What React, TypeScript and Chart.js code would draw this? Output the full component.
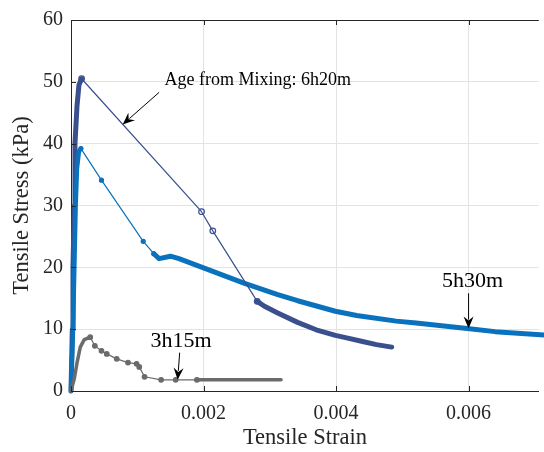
import React, { useEffect, useRef } from 'react';
import { Chart, registerables } from 'chart.js';

Chart.register(...registerables);

// ---- axes ----
const xTickValues = [0, 0.002, 0.004, 0.006];
const xTickLabels = ['0', '0.002', '0.004', '0.006'];
const yTickValues = [0, 10, 20, 30, 40, 50, 60];
const yTickLabels = ['0', '10', '20', '30', '40', '50', '60'];

// ---- 6h20m (navy) ----
const s620RiseStrain = [0, 0.00002, 0.00003, 0.00005, 0.00006, 0.00009, 0.00012, 0.00016];
const s620RiseStress = [0, 10, 20, 30, 40, 46, 49.5, 50.5];
const s620MidStrain = [0.00016, 0.00197, 0.00214, 0.00281];
const s620MidStress = [50.5, 29.0, 25.9, 14.5];
const s620TailStrain = [0.00281, 0.00292, 0.00312, 0.00342, 0.0037, 0.00399, 0.00416, 0.0044, 0.00461, 0.00484];
const s620TailStress = [14.5, 13.7, 12.6, 11.1, 9.9, 9.0, 8.6, 8.0, 7.5, 7.1];

// ---- 5h30m (blue) ----
const s530RiseStrain = [0, 0.00003, 0.00005, 0.00007, 0.00009, 0.00012, 0.00015];
const s530RiseStress = [0, 10, 20, 30, 36, 38.8, 39.2];
const s530MidStrain = [0.00015, 0.00046, 0.00109, 0.00125];
const s530MidStress = [39.2, 34.1, 24.2, 22.2];
const s530TailStrain = [0.00125, 0.00133, 0.0015, 0.00163, 0.00203, 0.00262, 0.00312, 0.00342, 0.00399, 0.00431, 0.00491, 0.00521, 0.00598, 0.0064, 0.0072];
const s530TailStress = [22.2, 21.4, 21.8, 21.4, 19.8, 17.4, 15.6, 14.6, 12.9, 12.2, 11.3, 11.0, 10.1, 9.6, 9.0];

// ---- 3h15m (gray) ----
const s315RiseStrain = [0, 0.00005, 0.00009, 0.00014, 0.0002, 0.00029];
const s315RiseStress = [0, 2, 4.5, 7.1, 8.3, 8.7];
const s315MidStrain = [0.00029, 0.00036, 0.00046, 0.00054, 0.00069, 0.00086, 0.00099, 0.00103, 0.00111, 0.00136, 0.00158, 0.0019];
const s315MidStress = [8.7, 7.3, 6.5, 6.0, 5.2, 4.6, 4.4, 3.9, 2.3, 1.8, 1.8, 1.8];
const s315TailStrain = [0.0019, 0.0025, 0.00317];
const s315TailStress = [1.8, 1.8, 1.8];

const NAVY = '#3a4f8e';
const BLUE = '#0a72bd';
const GRAY = '#6b6b6b';
const TEXT = '#262626';
const FONT = 'Liberation Serif';

// annotations: text anchor + arrow tail/tip, in data units
const annotations = [
  { text: 'Age from Mixing: 6h20m', size: 18, tx: 0.00141, ty: 50.3, align: 'left', x0: 0.00133, y0: 48.3, x1: 0.00078, y1: 43.1 },
  { text: '5h30m', size: 22, tx: 0.00606, ty: 17.7, align: 'center', x0: 0.006, y0: 15.8, x1: 0.006, y1: 10.1 },
  { text: '3h15m', size: 22, tx: 0.00166, ty: 8.1, align: 'center', x0: 0.00164, y0: 6.2, x1: 0.00161, y1: 1.8 },
];

const zip = (xs: number[], ys: number[]) => xs.map((x, i) => ({ x, y: ys[i] }));

const mk = (label: string, xs: number[], ys: number[], color: string, width: number, radius: number, order: number, hollow = false) => ({
  label,
  data: zip(xs, ys),
  borderColor: color,
  backgroundColor: color,
  borderWidth: width,
  pointRadius: radius,
  pointBorderWidth: 1.2,
  pointBorderColor: color,
  pointBackgroundColor: hollow ? 'rgba(255,255,255,0)' : color,
  borderJoinStyle: 'round' as const,
  borderCapStyle: 'round' as const,
  tension: 0,
  clip: false as const,
  order,
});

const framePlugin = {
  id: 'frame',
  afterDraw(chart: any) {
    const { ctx, chartArea: a, scales } = chart;
    const xs = scales.x;
    const ys = scales.y;
    ctx.save();
    ctx.strokeStyle = TEXT;
    ctx.lineWidth = 1;
    // top border
    ctx.beginPath();
    ctx.moveTo(a.left, a.top + 0.5);
    ctx.lineTo(a.right, a.top + 0.5);
    ctx.stroke();
    // inward ticks
    ctx.beginPath();
    xTickValues.forEach((v) => {
      const px = Math.round(xs.getPixelForValue(v)) + 0.5;
      ctx.moveTo(px, a.bottom);
      ctx.lineTo(px, a.bottom - 5);
      ctx.moveTo(px, a.top);
      ctx.lineTo(px, a.top + 5);
    });
    yTickValues.forEach((v) => {
      const py = Math.round(ys.getPixelForValue(v)) + 0.5;
      ctx.moveTo(a.left, py);
      ctx.lineTo(a.left + 5, py);
    });
    ctx.stroke();

    // annotations
    ctx.fillStyle = '#000';
    ctx.strokeStyle = '#000';
    ctx.textBaseline = 'middle';
    annotations.forEach((an) => {
      ctx.font = `${an.size}px "${FONT}"`;
      ctx.textAlign = an.align as CanvasTextAlign;
      ctx.fillText(an.text, xs.getPixelForValue(an.tx), ys.getPixelForValue(an.ty));
      const px0 = xs.getPixelForValue(an.x0);
      const py0 = ys.getPixelForValue(an.y0);
      const px1 = xs.getPixelForValue(an.x1);
      const py1 = ys.getPixelForValue(an.y1);
      const ang = Math.atan2(py1 - py0, px1 - px0);
      const L = 12;
      const W = 5;
      const bx = px1 - L * Math.cos(ang);
      const by = py1 - L * Math.sin(ang);
      ctx.lineWidth = 1;
      ctx.beginPath();
      ctx.moveTo(px0, py0);
      ctx.lineTo(bx + 3 * Math.cos(ang), by + 3 * Math.sin(ang));
      ctx.stroke();
      const nx = -Math.sin(ang);
      const ny = Math.cos(ang);
      ctx.beginPath();
      ctx.moveTo(px1, py1);
      ctx.lineTo(bx + W * nx, by + W * ny);
      ctx.lineTo(px1 - (L - 4) * Math.cos(ang), py1 - (L - 4) * Math.sin(ang));
      ctx.lineTo(bx - W * nx, by - W * ny);
      ctx.closePath();
      ctx.fill();
    });
    ctx.restore();
  },
};

export default function App() {
  const ref = useRef<HTMLCanvasElement | null>(null);
  useEffect(() => {
    document.body.style.margin = '0';
    if (!ref.current) return;
    const tickFont = { family: FONT, size: 20 };
    const titleFont = { family: FONT, size: 22.5 };
    const chart = new Chart(ref.current, {
      type: 'line',
      data: {
        datasets: [
          mk('6h20m rise', s620RiseStrain, s620RiseStress, NAVY, 5, 0, 6),
          mk('6h20m', s620MidStrain, s620MidStress, NAVY, 1.2, 2.8, 1, true),
          mk('6h20m tail', s620TailStrain, s620TailStress, NAVY, 5, 0, 5),
          mk('5h30m rise', s530RiseStrain, s530RiseStress, BLUE, 4.5, 0, 4),
          mk('5h30m', s530MidStrain, s530MidStress, BLUE, 1.2, 2, 3),
          mk('5h30m tail', s530TailStrain, s530TailStress, BLUE, 5, 0, 4),
          mk('3h15m rise', s315RiseStrain, s315RiseStress, GRAY, 3.5, 0, 2),
          mk('3h15m', s315MidStrain, s315MidStress, GRAY, 1.2, 2.3, 2),
          mk('3h15m tail', s315TailStrain, s315TailStress, GRAY, 3.5, 0, 2),
        ] as any,
      },
      options: {
        animation: false,
        responsive: false,
        maintainAspectRatio: false,
        layout: { padding: { top: 15, right: 0, left: 0, bottom: 0 } },
        plugins: { legend: { display: false }, tooltip: { enabled: false } },
        scales: {
          x: {
            type: 'linear',
            min: 0,
            max: 0.00706,
            afterBuildTicks: (s: any) => {
              s.ticks = xTickValues.map((v) => ({ value: v }));
            },
            afterFit: (s: any) => {
              s.height = 61;
            },
            ticks: {
              callback: (_v: any, i: number) => xTickLabels[i],
              font: tickFont,
              color: TEXT,
              padding: 11,
              maxRotation: 0,
              autoSkip: false,
            },
            grid: { color: '#e3e3e3', drawTicks: false },
            border: { color: TEXT, width: 1 },
            title: { display: true, text: 'Tensile Strain', font: titleFont, color: TEXT, padding: { top: 0, bottom: 0 } },
          },
          y: {
            type: 'linear',
            min: 0,
            max: 60,
            afterBuildTicks: (s: any) => {
              s.ticks = yTickValues.map((v) => ({ value: v }));
            },
            afterFit: (s: any) => {
              s.width = 71;
            },
            ticks: {
              callback: (_v: any, i: number) => yTickLabels[i],
              font: tickFont,
              color: TEXT,
              padding: 8,
              autoSkip: false,
            },
            grid: { color: '#e3e3e3', drawTicks: false },
            border: { color: TEXT, width: 1 },
            title: { display: true, text: 'Tensile Stress (kPa)', font: titleFont, color: TEXT, padding: { top: 9, bottom: 0 } },
          },
        },
      } as any,
      plugins: [framePlugin],
    });
    return () => chart.destroy();
  }, []);
  return (
    <div style={{ width: 544, height: 452, position: 'relative' }}>
      <canvas ref={ref} width={544} height={452} style={{ display: 'block' }} />
    </div>
  );
}
